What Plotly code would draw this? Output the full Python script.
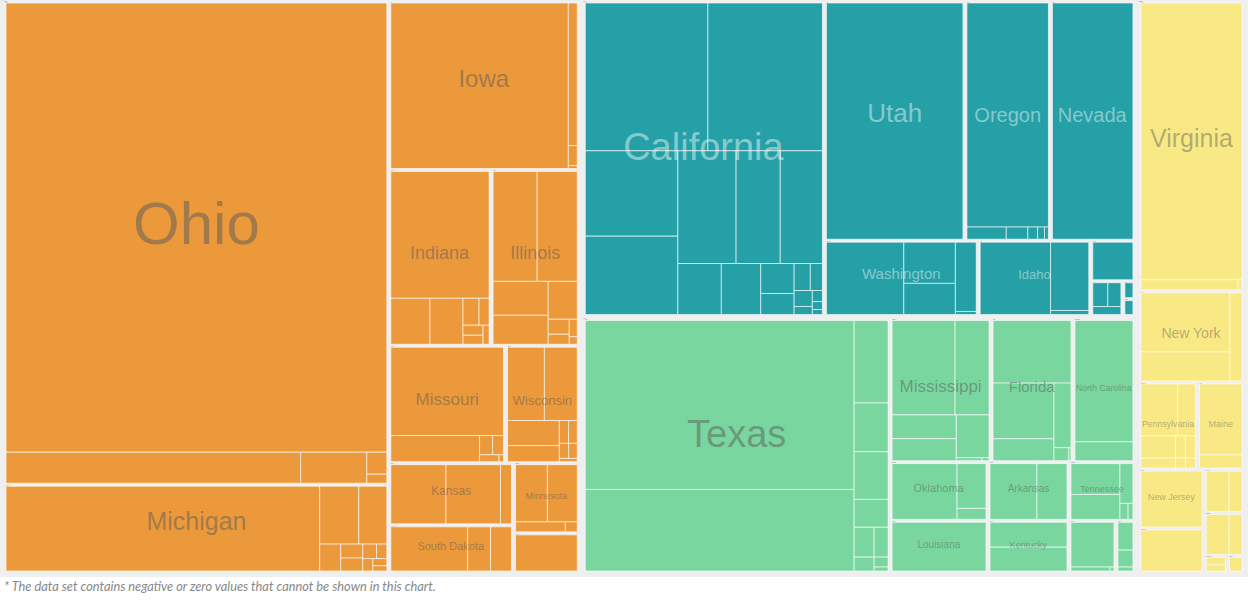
import plotly.graph_objects as go

# ---------------- data ----------------
regions = ["Midwest", "West", "South", "Northeast"]

midwest_states = ["Ohio", "Michigan", "Iowa", "Indiana", "Illinois", "Missouri",
                  "Wisconsin", "Kansas", "South Dakota", "Minnesota", "Nebraska"]
midwest_values = [
    [173900, 9270, 2080, 447, 183],
    [27830, 2366, 1699, 593, 322, 299, 209, 130, 157, 105, 77],
    [30545, 1329, 187, 28],
    [13180, 1900, 1608, 457, 286, 212, 191, 121],
    [5159, 4690, 1993, 1700, 1175, 336, 224, 149, 64],
    [10570, 2460, 266, 223, 142, 32],
    [2931, 2614, 1411, 903, 228, 217, 152, 141, 63],
    [3540, 3505, 705],
    [3739, 1117, 1020],
    [2028, 1902, 556, 133],
    [2574],
]

west_states = ["California", "Utah", "Oregon", "Nevada", "Washington", "Idaho",
               "Colorado", "Arizona", "Montana", "Wyoming"]
west_values = [
    [18681, 17456, 8146, 7475, 6767, 5133, 4900, 2285, 2072, 1032, 722, 450, 338, 300, 150, 115, 83, 52],
    [33748],
    [19475, 510, 280, 127, 89, 51],
    [20300],
    [6009, 2279, 1723, 1549, 67],
    [5517, 2831, 164],
    [1800],
    [450, 390, 280],
    [216],
    [204],
]

south_states = ["Texas", "Mississippi", "Florida", "North Carolina", "Oklahoma", "Louisiana",
                "Arkansas", "Kentucky", "Tennessee", "Georgia", "Alabama"]
south_values = [
    [46887, 22616, 2893, 1708, 1673, 976, 615, 431, 287, 144, 57],
    [6365, 3435, 1633, 1497, 1509, 83, 22],
    [5276, 3668, 1441, 1186, 209, 28],
    [7725, 1203],
    [3998, 1433, 350],
    [5096],
    [2917, 1862],
    [2149, 2063],
    [1704, 1374, 583, 146, 87],
    [2245, 181, 18],
    [565, 343, 80],
]

northeast_states = ["Virginia", "New York", "Pennsylvania", "Maine", "New Jersey",
                    "Massachusetts", "Maryland", "Connecticut", "New Hampshire", "Vermont"]
northeast_values = [
    [30280, 1054, 43],
    [5837, 2869, 1174],
    [2168, 1055, 885, 402, 253, 252, 116, 115],
    [3525, 655],
    [3965],
    [2957],
    [1136, 642],
    [1127, 636],
    [218, 179],
    [281],
]

unlabelled_states = ["Nebraska", "Colorado", "Arizona", "Montana", "Wyoming", "Georgia",
                     "Alabama", "Massachusetts", "Maryland", "Connecticut",
                     "New Hampshire", "Vermont"]

footnote = "* The data set contains negative or zero values that cannot be shown in this chart."

# ---------------- styles ----------------
state_lists = {"Midwest": midwest_states, "West": west_states,
               "South": south_states, "Northeast": northeast_states}
value_lists = {"Midwest": midwest_values, "West": west_values,
               "South": south_values, "Northeast": northeast_values}

region_fill = {"Midwest": "#EB993B", "West": "#25A0A7",
               "South": "#7AD69F", "Northeast": "#F8E984"}
label_color = {"Midwest": "rgba(90,90,90,0.5)", "West": "rgba(255,255,255,0.45)",
               "South": "rgba(80,80,80,0.45)", "Northeast": "rgba(90,90,90,0.45)"}
label_size = {"Ohio": 60, "Michigan": 25, "Iowa": 24, "Indiana": 18, "Illinois": 18,
              "Missouri": 17, "Wisconsin": 13, "Kansas": 12, "South Dakota": 11,
              "Minnesota": 9, "California": 38, "Utah": 26, "Oregon": 20, "Nevada": 20,
              "Washington": 15, "Idaho": 13, "Texas": 38, "Mississippi": 17, "Florida": 15,
              "North Carolina": 13, "Oklahoma": 11, "Louisiana": 10, "Arkansas": 10,
              "Tennessee": 9, "Kentucky": 9, "Virginia": 25, "New York": 14,
              "Pennsylvania": 10, "Maine": 9, "New Jersey": 9}

BG = "#efefef"
ITEM_LINE = "rgba(255,255,255,0.6)"
CLEAR = "rgba(0,0,0,0)"
FONT = "Liberation Sans, Arial, sans-serif"
# tiny invisible lines above/below a label lift it so its baseline sits near the centre
TINY = "<span style='font-size:1px'>\u00a0</span>"

# ---------------- build hierarchy ----------------
ids1, labels1, parents1, values1, colors1, lw1, lc1 = [], [], [], [], [], [], []
ids2, labels2, parents2, values2, text2, tsize2, tcolor2 = [], [], [], [], [], [], []

grand = sum(sum(sum(it) for it in value_lists[r]) for r in regions)

for L in (ids1, ids2):
    L.append("all")
for L in (labels1, labels2):
    L.append("All")
for L in (parents1, parents2):
    L.append("")
values1.append(grand); values2.append(grand)
colors1.append(BG); lw1.append(0); lc1.append(BG)
text2.append(""); tsize2.append(10); tcolor2.append(CLEAR)

for r in regions:
    rtotal = sum(sum(it) for it in value_lists[r])
    ids1.append(r); labels1.append(r); parents1.append("all"); values1.append(rtotal)
    colors1.append(BG); lw1.append(0); lc1.append(BG)
    ids2.append(r); labels2.append(r); parents2.append("all"); values2.append(rtotal)
    text2.append(""); tsize2.append(10); tcolor2.append(CLEAR)
    for s, items in zip(state_lists[r], value_lists[r]):
        sid = r + "/" + s
        stotal = sum(items)
        ids1.append(sid); labels1.append(s); parents1.append(r); values1.append(stotal)
        colors1.append(BG); lw1.append(0); lc1.append(BG)
        ids2.append(sid); labels2.append(s); parents2.append(r); values2.append(stotal)
        text2.append("" if s in unlabelled_states else TINY + "<br>" + s + "<br>" + TINY)
        tsize2.append(label_size.get(s, 10)); tcolor2.append(label_color[r])
        for k, v in enumerate(items):
            ids1.append(sid + "/" + str(k + 1)); labels1.append(s + " " + str(k + 1))
            parents1.append(sid); values1.append(v)
            colors1.append(region_fill[r]); lw1.append(1); lc1.append(ITEM_LINE)

common = dict(
    branchvalues="total",
    sort=True,
    tiling=dict(packing="squarify", squarifyratio=1.618034, pad=0),
    pathbar=dict(visible=False),
    domain=dict(x=[0, 1], y=[0, 1]),
    maxdepth=-1,
)

fig = go.Figure()
fig.add_trace(go.Treemap(
    ids=ids1, labels=labels1, parents=parents1, values=values1,
    marker=dict(colors=colors1, line=dict(width=lw1, color=lc1),
                pad=dict(t=1, l=2, r=2, b=2), depthfade=False),
    root=dict(color=BG),
    textinfo="none", hoverinfo="skip",
    **common,
))
fig.add_trace(go.Treemap(
    ids=ids2, labels=labels2, parents=parents2, values=values2,
    marker=dict(colors=[CLEAR] * len(ids2), line=dict(width=0, color=CLEAR),
                pad=dict(t=1, l=2, r=2, b=2), depthfade=False),
    root=dict(color=CLEAR),
    text=text2, textinfo="text", textposition="middle center",
    textfont=dict(family=FONT, size=tsize2, color=tcolor2),
    hoverinfo="skip",
    **common,
))

fig.add_annotation(
    text="<i>" + footnote + "</i>", x=0.002, y=-0.016, xref="paper", yref="paper",
    xanchor="left", yanchor="middle", showarrow=False,
    font=dict(family="Lato, Open Sans, sans-serif", size=12.8, color="#888888"),
)

fig.update_layout(
    width=1248, height=600,
    margin=dict(l=0, r=0, t=0, b=23),
    paper_bgcolor="white", plot_bgcolor="white",
    showlegend=False, hovermode=False,
)

fig.write_html("out.html", config={"staticPlot": True, "displayModeBar": False},
               post_script="document.body.style.margin='0';")
